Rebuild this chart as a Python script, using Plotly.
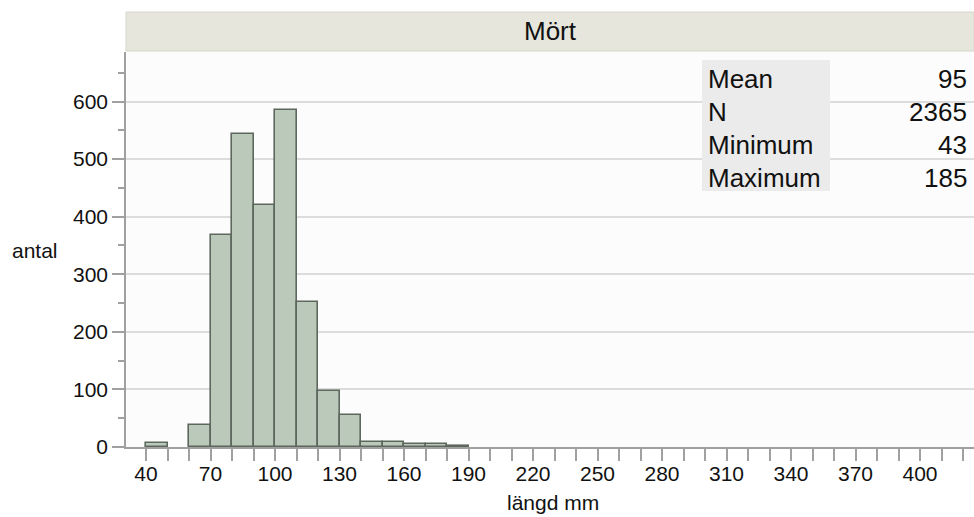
import plotly.graph_objects as go

# ---- data ----
bin_start = [40, 50, 60, 70, 80, 90, 100, 110, 120, 130, 140, 150, 160, 170, 180]
counts = [7, 0, 39, 368, 544, 421, 586, 252, 98, 56, 9, 9, 5, 5, 2]
bin_width = 10
title = "Mört"
x_title = "längd mm"
y_title = "antal"
x_tickvals = [40, 70, 100, 130, 160, 190, 220, 250, 280, 310, 340, 370, 400]
y_tickvals = [0, 100, 200, 300, 400, 500, 600]
stat_names = ["Mean", "N", "Minimum", "Maximum"]
stat_values = ["95", "2365", "43", "185"]

W, H = 974, 517
ML, MR, MT, MB = 126, 0, 52, 70
PW, PH = W - ML - MR, H - MT - MB

def px_x(px):
    return (px - ML) / PW

def px_y(py):
    return (H - MB - py) / PH

FONT = "Helvetica, Arial, 'Liberation Sans', sans-serif"

fig = go.Figure()
fig.add_trace(go.Bar(
    x=[b + bin_width / 2 for b in bin_start],
    y=counts,
    width=bin_width,
    marker=dict(color="#bac9b9",
                line=dict(color="#5d675d", width=[1.6 if c > 0 else 0 for c in counts])),
    showlegend=False,
))

shapes = [
    # title bar
    dict(type="rect", xref="paper", yref="paper", x0=0, x1=1,
         y0=px_y(51), y1=px_y(12), fillcolor="#e6e6dc",
         line=dict(color="#d6d6cc", width=1), layer="above"),
    # stats box
    dict(type="rect", xref="paper", yref="paper", x0=px_x(702), x1=px_x(830),
         y0=px_y(191), y1=px_y(60), fillcolor="#ebebeb", line=dict(width=0), layer="above"),
]

annotations = [
    dict(text=title, xref="paper", yref="paper", x=0.5, y=px_y(31.5),
         showarrow=False, font=dict(family=FONT, size=26, color="#111"),
         xanchor="center", yanchor="middle"),
]
row_y = [79, 112, 145, 178]
for name, val, ry in zip(stat_names, stat_values, row_y):
    annotations.append(dict(text=name, xref="paper", yref="paper", x=px_x(706), y=px_y(ry),
                            showarrow=False, xanchor="left", yanchor="middle",
                            font=dict(family=FONT, size=26, color="#111")))
    annotations.append(dict(text=val, xref="paper", yref="paper", x=px_x(969), y=px_y(ry),
                            showarrow=False, xanchor="right", yanchor="middle",
                            font=dict(family=FONT, size=26, color="#111")))
annotations.append(dict(text=y_title, xref="paper", yref="paper", x=px_x(35), y=px_y(250),
                        showarrow=False, xanchor="center", yanchor="middle",
                        font=dict(family=FONT, size=21, color="#111")))
annotations.append(dict(text=x_title, xref="paper", yref="paper", x=px_x(553), y=px_y(502),
                        showarrow=False, xanchor="center", yanchor="middle",
                        font=dict(family=FONT, size=21, color="#111")))

fig.update_layout(
    width=W, height=H,
    margin=dict(l=ML, r=MR, t=MT, b=MB, pad=0),
    paper_bgcolor="white", plot_bgcolor="#fcfcfc",
    bargap=0,
    shapes=shapes, annotations=annotations,
    font=dict(family=FONT, size=21, color="#111"),
    xaxis=dict(
        range=[30.7, 425.1], tickmode="array", tickvals=x_tickvals,
        ticks="outside", ticklen=12, tickcolor="#a0a0a0", tickwidth=1.5,
        showline=True, linecolor="#a0a0a0", linewidth=1.5,
        showgrid=False, zeroline=False, ticklabelstandoff=-5,
        minor=dict(dtick=10, tick0=40, ticks="outside", ticklen=12,
                   tickcolor="#a0a0a0", tickwidth=1.5, showgrid=False),
        tickfont=dict(family=FONT, size=21, color="#111"),
    ),
    yaxis=dict(
        range=[0, 686], tickmode="array", tickvals=y_tickvals,
        ticks="outside", ticklen=12, tickcolor="#a0a0a0", tickwidth=1.5,
        showline=True, linecolor="#a0a0a0", linewidth=1.5,
        showgrid=True, gridcolor="#dcdcdc", gridwidth=1.5, zeroline=False,
        minor=dict(dtick=50, tick0=0, ticks="outside", ticklen=6,
                   tickcolor="#a0a0a0", tickwidth=1.5, showgrid=False),
        tickfont=dict(family=FONT, size=21, color="#111"),
    ),
)

fig.write_html(
    "out.html",
    config={"displayModeBar": False},
    post_script="document.body.style.margin='0';document.body.style.overflow='hidden';",
)
